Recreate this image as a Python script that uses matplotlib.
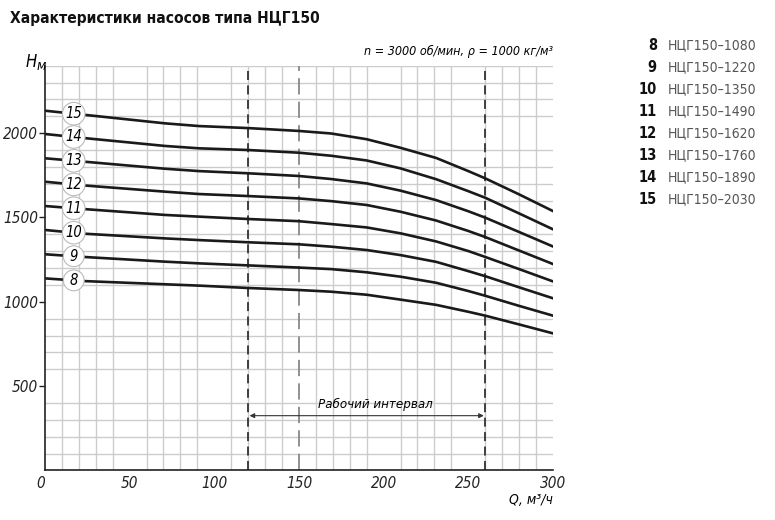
import numpy as np
import matplotlib.pyplot as plt

plt.rcParams['font.family'] = ['DejaVu Sans']
plt.rcParams['font.stretch'] = 'condensed'

# расход Q, м3/ч (точки)
q = [0, 23, 71, 91, 120, 150, 169, 190, 210, 231, 250, 260, 280, 300]

# напор H, м для каждой кривой
curve_ids = [15, 14, 13, 12, 11, 10, 9, 8]
h15 = [2133, 2109, 2058, 2042, 2030, 2013, 1998, 1964, 1913, 1853, 1775, 1732, 1637, 1538]
h14 = [1995, 1971, 1924, 1910, 1900, 1884, 1866, 1838, 1791, 1727, 1656, 1617, 1524, 1430]
h13 = [1851, 1831, 1789, 1775, 1762, 1746, 1728, 1702, 1659, 1603, 1537, 1499, 1414, 1328]
h12 = [1712, 1690, 1653, 1639, 1627, 1613, 1597, 1574, 1534, 1482, 1420, 1384, 1304, 1224]
h11 = [1568, 1550, 1515, 1505, 1491, 1478, 1461, 1441, 1406, 1358, 1301, 1266, 1194, 1121]
h10 = [1426, 1404, 1376, 1366, 1353, 1341, 1327, 1307, 1277, 1237, 1182, 1152, 1086, 1021]
h9 = [1282, 1266, 1238, 1228, 1216, 1203, 1194, 1175, 1149, 1113, 1064, 1036, 976, 918]
h8 = [1139, 1123, 1104, 1096, 1082, 1070, 1060, 1042, 1013, 982, 941, 918, 866, 813]
heads = [h15, h14, h13, h12, h11, h10, h9, h8]

# легенда справа
legend_ids = ['8', '9', '10', '11', '12', '13', '14', '15']
legend_names = ['НЦГ150–1080', 'НЦГ150–1220', 'НЦГ150–1350', 'НЦГ150–1490',
                'НЦГ150–1620', 'НЦГ150–1760', 'НЦГ150–1890', 'НЦГ150–2030']

x_ticks = [0, 50, 100, 150, 200, 250, 300]
y_ticks = [500, 1000, 1500, 2000]
work_lo, work_mid, work_hi = 120, 150, 260

fig = plt.figure(figsize=(7.75, 5.2), dpi=100)
ax = fig.add_axes([0.058, 0.0952, 0.6555, 0.7785])

ax.set_xlim(0, 300)
ax.set_ylim(0, 2400)
ax.set_xticks(np.arange(0, 301, 10), minor=True)
ax.set_yticks(np.arange(0, 2401, 100), minor=True)
ax.grid(which='minor', color='#cccccc', lw=1.0)
ax.set_axisbelow(True)
for s in ['top', 'right']:
    ax.spines[s].set_visible(False)
for s in ['left', 'bottom']:
    ax.spines[s].set_color('#222222')
    ax.spines[s].set_linewidth(1.2)

ax.set_xticks(x_ticks)
ax.set_xticklabels([str(v) for v in x_ticks], fontstyle='italic', fontsize=11)
ax.set_yticks(y_ticks)
ax.set_yticklabels([str(v) for v in y_ticks], fontstyle='italic', fontsize=11)
ax.tick_params(axis='x', length=0, pad=4, colors='#222222')
ax.tick_params(axis='y', length=4, width=1, pad=1, colors='#222222')
ax.tick_params(which='minor', length=0)
ax.get_xticklabels()[0].set_horizontalalignment('right')

# рабочий интервал
ax.axvline(work_lo, color='#333333', lw=1.3, ls=(0, (5, 3)))
ax.axvline(work_hi, color='#333333', lw=1.3, ls=(0, (5, 3)))
ax.axvline(work_mid, color='#888888', lw=1.3, ls=(0, (9, 4)))
ax.annotate('', xy=(work_lo, 325), xytext=(work_hi, 325),
            arrowprops=dict(arrowstyle='<|-|>', color='#333333', lw=0.8,
                            mutation_scale=7, shrinkA=1, shrinkB=1))
ax.text(195, 392, 'Рабочий интервал', ha='center', va='center',
        fontstyle='italic', fontsize=9.5)

# кривые
for cid, h in zip(curve_ids, heads):
    ax.plot(q, h, color='#1a1a1a', lw=1.9, solid_joinstyle='round')
    ax.text(17, np.interp(17, q, h), str(cid), ha='center', va='center',
            fontstyle='italic', fontsize=10.5, zorder=5,
            bbox=dict(boxstyle='circle,pad=0.2', fc='white', ec='#bbbbbb', lw=0.8))

fig.text(37 / 775, 1 - 62 / 520, 'H', ha='right', va='center',
         fontstyle='italic', fontsize=12)
fig.text(37 / 775, 1 - 66 / 520, 'м', ha='left', va='center',
         fontstyle='italic', fontsize=10)
ax.text(1.0, 1.02, 'n = 3000 об/мин, ρ = 1000 кг/м³', transform=ax.transAxes,
        ha='right', va='bottom', fontstyle='italic', fontsize=9)
ax.text(1.0, -0.055, 'Q, м³/ч', transform=ax.transAxes, ha='right', va='top',
        fontstyle='italic', fontsize=10)

fig.text(10 / 775, 1 - 18 / 520, 'Характеристики насосов типа НЦГ150',
         ha='left', va='center', fontsize=11.2, fontweight='bold', color='#111111')

for i, (lid, name) in enumerate(zip(legend_ids, legend_names)):
    y = 1 - (45 + i * 22) / 520
    fig.text(657 / 775, y, lid, ha='right', va='center', fontsize=10.5,
             fontweight='bold', color='#111111')
    fig.text(668 / 775, y, name, ha='left', va='center', fontsize=10,
             color='#555555')

fig.savefig('out.png', dpi=100)
